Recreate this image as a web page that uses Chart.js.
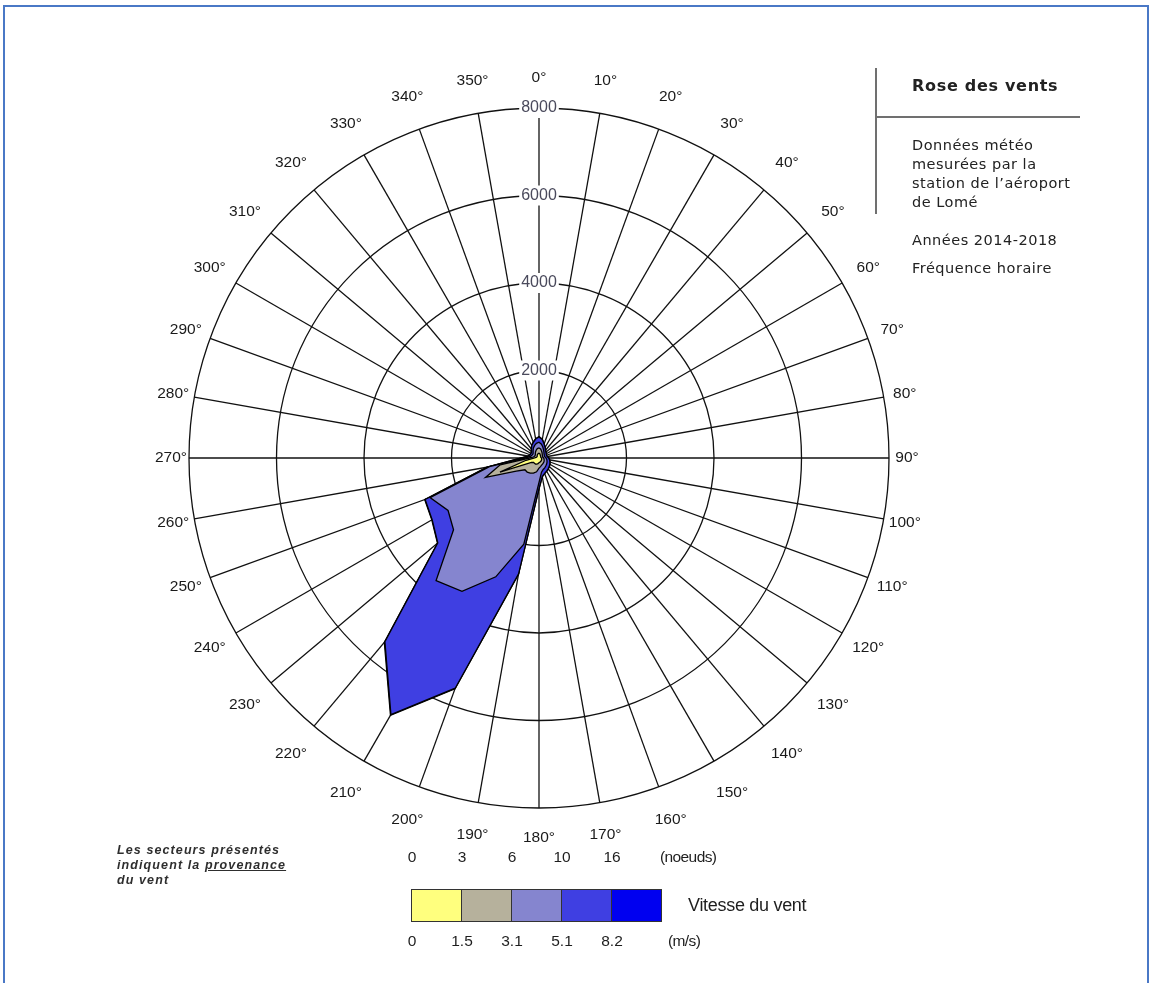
<!DOCTYPE html>
<html>
<head>
<meta charset="utf-8">
<script src="https://cdn.jsdelivr.net/npm/chart.js@4"></script>
<style>
  body { margin: 0; background: #fff; width: 1152px; height: 983px; overflow: hidden; position: relative; font-family: "Liberation Sans", Arial, sans-serif; color: #1e1e1e; }
  #rose { position: absolute; left: 0; top: 0; }
  .frame { position: absolute; left: 3px; top: 5px; right: 3px; bottom: -20px; border: 2px solid #4a78c6; }
  .vline { position: absolute; left: 875px; top: 68px; width: 2px; height: 146px; background: #707070; }
  .hline { position: absolute; left: 876px; top: 116px; width: 204px; height: 2px; background: #707070; }
  .info { position: absolute; left: 912px; font-family: "DejaVu Sans", sans-serif; font-size: 14.5px; letter-spacing: 0.5px; line-height: 19px; color: #222; white-space: nowrap; }
  .title { font-weight: bold; font-size: 16px; letter-spacing: 0.7px; }
  .note { position: absolute; left: 117px; top: 843px; font-size: 12.5px; font-weight: bold; font-style: italic; letter-spacing: 1.1px; line-height: 15px; color: #2e2e2e; }
  .lab { position: absolute; transform: translate(-50%, -50%); font-size: 15.5px; white-space: nowrap; }
  .lft { position: absolute; transform: translateY(-50%); font-size: 15.5px; white-space: nowrap; letter-spacing: -0.6px; }
  .cell { position: absolute; top: 889px; height: 31px; width: 49px; border: 1px solid #333; border-right: none; }
</style>
</head>
<body>
<div class="frame"></div>
<canvas id="rose" width="1152" height="983"></canvas>

<div class="vline"></div>
<div class="hline"></div>
<div class="info title" style="top:76px">Rose des vents</div>
<div class="info" style="top:136px">Données météo<br>mesurées par la<br>station de l’aéroport<br>de Lomé</div>
<div class="info" style="top:231px">Années 2014-2018</div>
<div class="info" style="top:259px">Fréquence horaire</div>

<div class="note">Les secteurs présentés<br>indiquent la <u>provenance</u><br>du vent</div>
<div id="legend"></div>

<script>
// directions (degrés, provenance)
const directions = ['0°', '10°', '20°', '30°', '40°', '50°', '60°', '70°', '80°', '90°', '100°', '110°',
  '120°', '130°', '140°', '150°', '160°', '170°', '180°', '190°', '200°', '210°', '220°', '230°',
  '240°', '250°', '260°', '270°', '280°', '290°', '300°', '310°', '320°', '330°', '340°', '350°'];

// cumulated hourly counts per direction, by speed class upper limit (m/s)
const upTo1_5 = [110, 100, 80, 65, 55, 50, 45, 45, 50, 55, 60, 65,
  70, 75, 80, 85, 90, 100, 110, 130, 150, 160, 160, 160,
  200, 950, 300, 100, 70, 60, 55, 55, 65, 80, 90, 105];
const upTo3_1 = [230, 210, 170, 140, 115, 100, 90, 85, 90, 105, 115, 125,
  135, 145, 150, 160, 175, 200, 230, 320, 370, 400, 420, 420,
  600, 1300, 900, 220, 130, 110, 105, 110, 130, 160, 190, 220];
const upTo5_1 = [360, 320, 260, 210, 175, 150, 140, 130, 140, 160, 180, 195,
  210, 225, 240, 260, 280, 330, 560, 2000, 2890, 3520, 3660, 2550,
  2400, 2650, 1150, 320, 200, 175, 165, 175, 210, 260, 300, 340];
const upTo8_2 = [480, 430, 340, 280, 230, 205, 190, 180, 190, 220, 245, 265,
  285, 305, 325, 345, 375, 430, 700, 2690, 5600, 6770, 5480, 3020,
  2820, 2770, 1200, 400, 250, 220, 210, 220, 270, 330, 380, 440];
const allSpeeds = [490, 435, 345, 285, 235, 210, 195, 185, 195, 225, 250, 270,
  290, 310, 330, 350, 380, 435, 710, 2700, 5610, 6790, 5500, 3030,
  2830, 2780, 1205, 405, 255, 225, 215, 225, 275, 335, 385, 445];

// speed class limits shown under / above the colour bar
const knotLimits = ['0', '3', '6', '10', '16'];
const msLimits = ['0', '1.5', '3.1', '5.1', '8.2'];
const classColors = ['#ffff7e', '#b6b19c', '#8585cf', '#3f3fe2', '#0000f0'];

const FONT = '"Liberation Sans", Arial, sans-serif';

// legend bar
const legend = document.getElementById('legend');
let html = '';
classColors.forEach((c, i) => {
  const x = 411 + i * 50;
  html += `<div class="cell" style="left:${x}px;background:${c}"></div>`;
  html += `<div class="lab" style="left:${x + 1}px;top:857px">${knotLimits[i]}</div>`;
  html += `<div class="lab" style="left:${x + 1}px;top:941px">${msLimits[i]}</div>`;
});
html += `<div class="cell" style="left:661px;width:0;border-left:1px solid #333"></div>`;
html += `<div class="lft" style="left:660px;top:857px">(noeuds)</div>`;
html += `<div class="lft" style="left:668px;top:941px">(m/s)</div>`;
html += `<div class="lft" style="left:688px;top:905px;font-size:18px;letter-spacing:-0.3px">Vitesse du vent</div>`;
legend.innerHTML = html;

// degree labels around the rose, placed through the radial scale
const degreeLabels = {
  id: 'degreeLabels',
  afterDraw(chart) {
    const r = chart.scales.r;
    const ctx = chart.ctx;
    ctx.save();
    ctx.font = '15.5px ' + FONT;
    ctx.fillStyle = '#1a1a1a';
    ctx.textAlign = 'center';
    ctx.textBaseline = 'middle';
    chart.data.labels.forEach((label, i) => {
      const a = r.getIndexAngle(i);
      const s = Math.sin(a);
      const dist = r.drawingArea + 30 + 8 * Math.abs(Math.sin(2 * a)) - 12 * Math.pow(s, 4);
      const p = r.getPointPosition(i, dist);
      ctx.fillText(label, p.x, p.y);
    });
    ctx.restore();
  }
};

const serie = (label, data, color) => ({
  label: label,
  data: data,
  backgroundColor: color,
  borderColor: '#000',
  borderWidth: 1.3,
  pointRadius: 0,
  fill: true,
  tension: 0
});

new Chart(document.getElementById('rose'), {
  type: 'radar',
  data: {
    labels: directions,
    datasets: [
      serie('0 - 1.5 m/s', upTo1_5, classColors[0]),
      serie('1.5 - 3.1 m/s', upTo3_1, classColors[1]),
      serie('3.1 - 5.1 m/s', upTo5_1, classColors[2]),
      serie('5.1 - 8.2 m/s', upTo8_2, classColors[3]),
      serie('> 8.2 m/s', allSpeeds, classColors[4])
    ]
  },
  options: {
    responsive: false,
    animation: false,
    devicePixelRatio: 1,
    layout: { padding: { left: 179, right: 253, top: 98, bottom: 165 } },
    plugins: { legend: { display: false }, tooltip: { enabled: false } },
    scales: {
      r: {
        z: 1,
        min: 0,
        max: 8000,
        ticks: {
          stepSize: 2000,
          color: '#4a4a5c',
          font: { size: 16, family: FONT },
          backdropColor: '#ffffff',
          backdropPadding: 2,
          callback: v => String(v)
        },
        grid: { circular: true, color: '#111', lineWidth: 1.3 },
        angleLines: { color: '#111', lineWidth: 1.3 },
        pointLabels: { display: false }
      }
    }
  },
  plugins: [degreeLabels]
});
</script>
</body>
</html>
